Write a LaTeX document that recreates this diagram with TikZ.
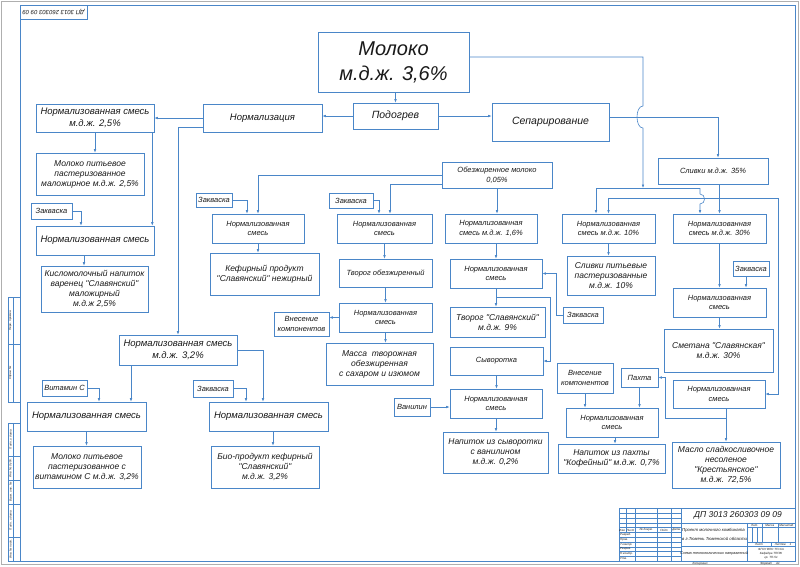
\documentclass[tikz,border=0pt]{standalone}
\usepackage{fontspec}
\newfontfamily\gost{Liberation Sans}
\usetikzlibrary{arrows.meta,calc}
\definecolor{flow}{RGB}{74,134,200}
\definecolor{txt}{RGB}{25,25,25}
\definecolor{sheet}{RGB}{175,175,175}

\begin{document}
\begin{tikzpicture}[x=1pt,y=-1pt]
\tikzstyle{blk}=[draw=flow,line width=.6pt,align=center,inner sep=1pt,text=txt]
\tikzstyle{fhuge}=[font=\gost\itshape\fontsize{20}{25}\selectfont]
\tikzstyle{fproc}=[font=\gost\itshape\fontsize{10.5}{12}\selectfont]
\tikzstyle{fbig}=[font=\gost\itshape\fontsize{9.5}{12}\selectfont]
\tikzstyle{fprod}=[font=\gost\itshape\fontsize{8.5}{10}\selectfont]
\tikzstyle{fsmall}=[font=\gost\itshape\fontsize{7.5}{9.5}\selectfont]
\tikzstyle{fstamp}=[font=\gost\itshape\fontsize{3}{3.6}\selectfont,inner sep=0pt,text=txt]
\tikzstyle{arr}=[draw=flow,line width=.6pt,-{Latex[length=3.5pt,width=2.6pt]}]
\tikzstyle{wire}=[draw=flow,line width=.6pt]
\tikzstyle{thin}=[draw=flow,line width=.35pt]

\useasboundingbox (0,0) rectangle (800,566);
\draw[sheet,line width=.8pt] (1.5,1.5) rectangle (798.5,564.5);
\draw[wire] (20,5) rectangle (795,561);

\draw[thin] (20,5) rectangle (87,19);
\node[fstamp,font=\gost\itshape\fontsize{6}{7}\selectfont,rotate=180] (stamp) at (53.5,12) {ДП 3013 260303 09 09};

\draw[thin] (8,297) rectangle (20,402);
\draw[thin] (13,297) -- (13,402);
\draw[thin] (8,344) -- (20,344);
\draw[thin] (8,423) rectangle (20,561);
\draw[thin] (13,423) -- (13,561);
\foreach \y in {456.3,480.1,503.9,537.2} {
  \draw[thin] (8,\y) -- (20,\y);
}
\node[fstamp,rotate=90] (s1) at (10.5,320.5) {Перв. примен.};
\node[fstamp,rotate=90] (s2) at (10.5,373) {Справ. №};
\node[fstamp,rotate=90] (s3) at (10.5,439.6) {Подп. и дата};
\node[fstamp,rotate=90] (s4) at (10.5,468.2) {Инв. № дубл.};
\node[fstamp,rotate=90] (s5) at (10.5,492) {Взам. инв. №};
\node[fstamp,rotate=90] (s6) at (10.5,520.5) {Подп. и дата};
\node[fstamp,rotate=90] (s7) at (10.5,549) {Инв. № подл.};

\draw[wire] (619,508.6) rectangle (795,561);
\foreach \r in {1,...,10} {
  \draw[thin] (619,{508.6+4.76*\r}) -- (680.9,{508.6+4.76*\r});
}
\draw[thin] (625.7,508.6) -- (625.7,532.4);
\foreach \x in {635.2,657.1,671.4} {
  \draw[thin] (\x,508.6) -- (\x,561);
}
\draw[wire] (680.9,508.6) -- (680.9,561);
\draw[wire] (680.9,522.9) -- (795,522.9);
\draw[wire] (680.9,546.7) -- (795,546.7);
\draw[wire] (747.5,522.9) -- (747.5,561);
\draw[thin] (747.5,527.6) -- (795,527.6);
\draw[thin] (747.5,541.9) -- (795,541.9);
\draw[thin] (752.3,527.6) -- (752.3,541.9);
\draw[thin] (757,527.6) -- (757,541.9);
\draw[thin] (761.8,522.9) -- (761.8,541.9);
\draw[thin] (777.9,522.9) -- (777.9,541.9);
\draw[thin] (771,541.9) -- (771,546.7);

\node[fstamp,font=\gost\itshape\fontsize{8.5}{10}\selectfont] (code) at (738,515.7) {ДП 3013 260303 09 09};
\node[fstamp] (h1) at (622.3,530) {Изм.};
\node[fstamp] (h2) at (630.5,530) {Лист};
\node[fstamp] (h3) at (646.2,530) {№ докум.};
\node[fstamp] (h4) at (664.3,530) {Подп.};
\node[fstamp] (h5) at (676.2,530) {Дата};
\node[fstamp,anchor=west] (r1) at (620,534.8) {Разраб.};
\node[fstamp,anchor=west] (r2) at (620,539.5) {Пров.};
\node[fstamp,anchor=west] (r3) at (620,544.3) {Т.контр.};
\node[fstamp,anchor=west] (r4) at (620,549.1) {Реценз.};
\node[fstamp,anchor=west] (r5) at (620,553.8) {Н.контр.};
\node[fstamp,anchor=west] (r6) at (620,558.6) {Утв.};
\node[fstamp,font=\gost\itshape\fontsize{4.3}{9.5}\selectfont,align=left,anchor=west] (name) at (682,534.5) {Проект молочного комбината\\в г.Тюмень Тюменской области};
\node[fstamp,font=\gost\itshape\fontsize{3.8}{5}\selectfont] (kind) at (714.2,553.8) {Схема технологических направлений};
\node[fstamp] (t1) at (754.6,525.2) {Лит.};
\node[fstamp] (t2) at (769.8,525.2) {Масса};
\node[fstamp] (t3) at (786.4,525.2) {Масштаб};
\node[fstamp] (t4) at (759,544.3) {Лист};
\node[fstamp] (t5) at (783,544.3) {Листов \quad 1};
\node[fstamp,align=center,font=\gost\itshape\fontsize{3}{4}\selectfont] (org) at (771,553.8) {ФГОУ ВПО ТГСХА\\Кафедра ТППЖ\\гр. ТП-51};
\node[fstamp] (copy) at (700,563.3) {Копировал};
\node[fstamp] (fmt) at (770,563.3) {Формат \quad А1};

\node[blk,fhuge,minimum width=151,minimum height=60] (milk) at (393.5,62) {Молоко\\м.д.ж. 3,6\%};
\node[blk,fproc,minimum width=85,minimum height=26] (podogrev) at (395.5,116) {Подогрев};
\node[blk,fbig,minimum width=119,minimum height=28] (normaliz) at (262.5,118) {Нормализация};
\node[blk,fproc,minimum width=117,minimum height=38] (separ) at (550.5,122) {Сепарирование};

\node[blk,fbig,minimum width=118,minimum height=28] (n25) at (95,118) {Нормализованная смесь\\м.д.ж. 2,5\%};
\node[blk,fprod,minimum width=108,minimum height=42] (mp25) at (90,174) {Молоко питьевое\\пастеризованное\\маложирное м.д.ж. 2,5\%};
\node[blk,fsmall,minimum width=41,minimum height=16] (zakv1) at (51.5,211) {Закваска};
\node[blk,fbig,minimum width=118,minimum height=29] (nvar) at (95,240.5) {Нормализованная смесь};
\node[blk,fprod,minimum width=107,minimum height=46] (varenec) at (94.5,289) {Кисломолочный напиток\\варенец "Славянский"\\маложирный\\м.д.ж 2,5\%};

\node[blk,fbig,minimum width=118,minimum height=30] (n32) at (178,350) {Нормализованная смесь\\м.д.ж. 3,2\%};
\node[blk,fsmall,minimum width=45,minimum height=16] (vitc) at (64.5,388) {Витамин С};
\node[blk,fbig,minimum width=119,minimum height=29] (nvit) at (86.5,416.5) {Нормализованная смесь};
\node[blk,fprod,minimum width=108,minimum height=42] (mvit) at (87,467) {Молоко питьевое\\пастеризованное с\\витамином С м.д.ж. 3,2\%};
\node[blk,fsmall,minimum width=40,minimum height=17] (zakv5) at (213,388.5) {Закваска};
\node[blk,fbig,minimum width=119,minimum height=29] (nbio) at (268.5,416.5) {Нормализованная смесь};
\node[blk,fprod,minimum width=108,minimum height=42] (bio) at (265,467) {Био-продукт кефирный\\"Славянский"\\м.д.ж. 3,2\%};

\node[blk,fsmall,minimum width=36,minimum height=14] (zakv2) at (214,200) {Закваска};
\node[blk,fsmall,minimum width=92,minimum height=29] (nkef) at (258,228.5) {Нормализованная\\смесь};
\node[blk,fprod,minimum width=109,minimum height=42] (kefir) at (264.5,274) {Кефирный продукт\\"Славянский" нежирный};

\node[blk,fsmall,minimum width=110,minimum height=26] (obez) at (497,175) {Обезжиренное молоко\\0,05\%};
\node[blk,fsmall,minimum width=44,minimum height=15] (zakv3) at (351,200.5) {Закваска};
\node[blk,fsmall,minimum width=95,minimum height=29] (ntv) at (384.5,228.5) {Нормализованная\\смесь};
\node[blk,fsmall,minimum width=93,minimum height=28] (tvorog0) at (385.5,273) {Творог обезжиренный};
\node[blk,fsmall,minimum width=93,minimum height=29] (nmass) at (385.5,317.5) {Нормализованная\\смесь};
\node[blk,fsmall,minimum width=55,minimum height=24] (vnes1) at (301.5,324) {Внесение\\компонентов};
\node[blk,fprod,minimum width=107,minimum height=42] (massa) at (379.5,364) {Масса \ творожная\\обезжиренная\\с сахаром и изюмом};

\node[blk,fsmall,minimum width=92,minimum height=29] (n16) at (491,228.5) {Нормализованная\\смесь м.д.ж. 1,6\%};
\node[blk,fsmall,minimum width=92,minimum height=29] (nslav) at (496,273.5) {Нормализованная\\смесь};
\node[blk,fsmall,minimum width=40,minimum height=16] (zakv4) at (583,315) {Закваска};
\node[blk,fprod,minimum width=95,minimum height=30] (tvslav) at (497.5,322) {Творог "Славянский"\\м.д.ж. 9\%};
\node[blk,fsmall,minimum width=93,minimum height=28] (syv) at (496.5,361) {Сыворотка};
\node[blk,fsmall,minimum width=92,minimum height=29] (nvan) at (496,403.5) {Нормализованная\\смесь};
\node[blk,fsmall,minimum width=36,minimum height=18] (vanil) at (412,407) {Ванилин};
\node[blk,fprod,minimum width=105,minimum height=41] (napsyv) at (495.5,452.5) {Напиток из сыворотки\\с ванилином\\м.д.ж. 0,2\%};

\node[blk,fsmall,minimum width=110,minimum height=26] (slivki35) at (713,171) {Сливки м.д.ж. 35\%};
\node[blk,fsmall,minimum width=93,minimum height=29] (n10) at (608.5,228.5) {Нормализованная\\смесь м.д.ж. 10\%};
\node[blk,fprod,minimum width=88,minimum height=39] (sl10) at (611,275.5) {Сливки питьевые\\пастеризованные\\м.д.ж. 10\%};
\node[blk,fsmall,minimum width=93,minimum height=29] (n30) at (719.5,228.5) {Нормализованная\\смесь м.д.ж. 30\%};
\node[blk,fsmall,minimum width=36,minimum height=15] (zakv6) at (751,268.5) {Закваска};
\node[blk,fsmall,minimum width=93,minimum height=29] (nsmet) at (719.5,302.5) {Нормализованная\\смесь};
\node[blk,fprod,minimum width=109,minimum height=43] (smet) at (718.5,350.5) {Сметана "Славянская"\\м.д.ж. 30\%};
\node[blk,fsmall,minimum width=56,minimum height=30] (vnes2) at (585,378) {Внесение\\компонентов};
\node[blk,fsmall,minimum width=37,minimum height=19] (pahta) at (639.5,377.5) {Пахта};
\node[blk,fsmall,minimum width=92,minimum height=28] (nmaslo) at (719,394) {Нормализованная\\смесь};
\node[blk,fsmall,minimum width=92,minimum height=29] (nkof) at (612,422.5) {Нормализованная\\смесь};
\node[blk,fprod,minimum width=107,minimum height=29] (kof) at (611.5,458.5) {Напиток из пахты\\"Кофейный" м.д.ж. 0,7\%};
\node[blk,fprod,minimum width=108,minimum height=46] (maslo) at (726,465) {Масло сладкосливочное\\несоленое\\"Крестьянское"\\м.д.ж. 72,5\%};

\draw[arr] (podogrev.north |- milk.south) -- (podogrev.north);
\draw[arr] (podogrev.west) -- (podogrev.west -| normaliz.east);
\draw[arr] (podogrev.east) -- (podogrev.east -| separ.west);
\draw[arr] (normaliz.west) -- (n25.east);
\draw[arr] ($(normaliz.west)+(0,9)$) -| (n32.north);

\draw[arr] (n25.south) -- (n25.south |- mp25.north);
\draw[arr] ($(n25.south east)+(-2,0)$) -- ($(nvar.north east)+(-2,0)$);
\draw[arr] (zakv1.east) -| ($(nvar.north)+(-14,0)$);
\draw[arr] ($(nvar.south)+(-11,0)$) -- ($(nvar.south |- varenec.north)+(-11,0)$);

\draw[arr] ($(n32.south)+(-47,0)$) -- ($(n32.south |- nvit.north)+(-47,0)$);
\draw[arr] (n32.east) -| ($(nbio.north)+(-5.5,0)$);
\draw[arr] (vitc.east) -| ($(nvit.north)+(12.5,0)$);
\draw[arr] (nvit.south) -- (nvit.south |- mvit.north);
\draw[arr] (zakv5.east) -| ($(nbio.north)+(-22.5,0)$);
\draw[arr] ($(nbio.south)+(4.5,0)$) -- ($(nbio.south |- bio.north)+(4.5,0)$);

\draw[arr] (obez.west) -| (nkef.north);
\draw[arr] (zakv2.east) -| ($(nkef.north)+(-11,0)$);
\draw[arr] (nkef.south) -- (nkef.south |- kefir.north);

\draw[arr] ($(obez.west)+(0,9)$) -| ($(ntv.north)+(5.5,0)$);
\draw[arr] (zakv3.east) -| ($(ntv.north)+(-5.5,0)$);
\draw[arr] (ntv.south) -- (ntv.south |- tvorog0.north);
\draw[arr] (tvorog0.south) -- (nmass.north);
\draw[arr] (nmass.west) -- (nmass.west -| vnes1.east);
\draw[arr] (nmass.south) -- (nmass.south |- massa.north);

\draw[arr] (obez.south) -- (obez.south |- n16.north);
\draw[arr] (nslav.north |- n16.south) -- (nslav.north);
\draw[arr] (zakv4.west) -- ++(-6,0) |- (nslav.east);
\draw[arr] (nslav.south) -- (nslav.south |- tvslav.north);
\draw[arr] ($(nslav.south)+(0,9)$) -| ($(syv.east)+(7,0)$) -- (syv.east);
\draw[arr] (syv.south) -- (syv.south |- nvan.north);
\draw[arr] (vanil.east) -- (vanil.east -| nvan.west);
\draw[arr] (nvan.south) -- (nvan.south |- napsyv.north);

\coordinate (mj) at (643,188);
\draw[arr] ($(milk.east)+(0,-5)$) -| ($(mj)+(0,-82)$) .. controls +(-8,0) and +(-8,0) .. ($(mj)+(0,-60)$) -- (mj);
\draw[arr] ($(separ.east)+(0,-5)$) -| ($(slivki35.north)+(5,0)$);
\draw[wire] ($(n10.north |- mj)+(-12.5,0)$) -- ($(n30.north |- mj)+(-19.5,0)$);
\draw[arr] ($(n10.north |- mj)+(-12.5,0)$) -- ($(n10.north)+(-12.5,0)$);
\draw[arr] ($(n30.north |- mj)+(-19.5,0)$) -- ++(0,6) .. controls +(6,0) and +(6,0) .. ++(0,10) -- ($(n30.north)+(-19.5,0)$);

\draw[arr] (n30.north |- slivki35.south) -- (n30.north);
\draw[arr] ($(n30.north)+(0,-15)$) -| (n10.north);
\draw[arr] ($(n30.north)+(0,-15)$) -| ($(nmaslo.east)+(13,0)$) -- (nmaslo.east);

\draw[arr] (n10.south) -- (n10.south |- sl10.north);
\draw[arr] (n30.south) -- (n30.south |- nsmet.north);
\draw[arr] ($(zakv6.south)+(-5,0)$) -- ($(zakv6.south |- nsmet.north)+(-5,0)$);
\draw[arr] (nsmet.south) -- (nsmet.south |- smet.north);

\draw[arr] (maslo.north |- nmaslo.south) -- (maslo.north);
\draw[arr] ($(maslo.north |- nmaslo.south)+(0,10)$) -| ($(pahta.east)+(7,0)$) -- (pahta.east);
\draw[arr] (pahta.south) -- (pahta.south |- nkof.north);
\draw[arr] (vnes2.south) -- (vnes2.south |- nkof.north);
\draw[arr] ($(nkof.south)+(3,0)$) -- ($(nkof.south |- kof.north)+(3,0)$);
\end{tikzpicture}
\end{document}
